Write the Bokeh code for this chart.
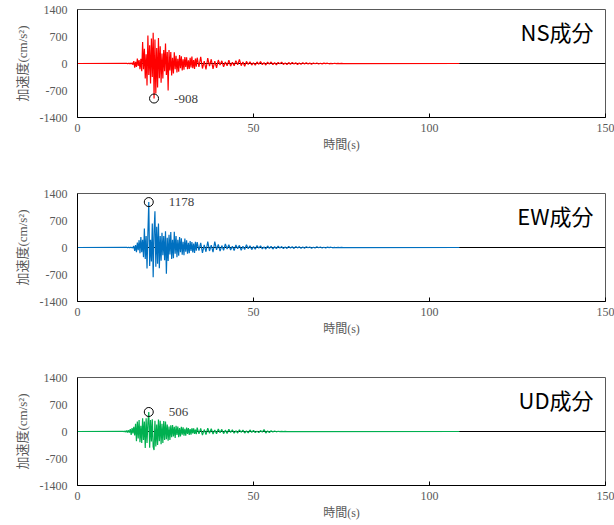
import numpy as np
from bokeh.plotting import figure
from bokeh.layouts import column
from bokeh.models import FixedTicker, Span, Label, Range1d
from bokeh.embed import file_html
from bokeh.resources import INLINE

# ---------------- data ----------------
components = ["NS成分", "EW成分", "UD成分"]
colors = ["#FF0000", "#0070C0", "#00B050"]

record_start = 0.0      # s
record_end = 108.5      # s
main_dt = 0.25          # s, sampling of the strong-motion part
coda_t0 = 34.0          # s
coda_dt = 0.5           # s

ns_main_t0 = 14.0
ns_main = [5, -5, 8, -6, 10, -12, 20, -30,
           60, -110, 40, -90, 130, -60, 90, -150,
           120, -200, 560, -150, 380, -390, 240, -570,
           725, -300, 470, -520, 650, -350, 800, -908,
           620, -780, 400, -620, 660, -380, 450, -500,
           260, -390, 350, -200, 520, -300, 300, -700,
           350, -180, 300, -310, 150, -260, 290, -150,
           200, -230, 120, -210, 220, -120, 190, -180,
           110, -160, 170, -90, 160, -150, 80, -140,
           150, -100, 180, -120, 90, -140, 130, -80]
ns_coda = [150, -90, 170, -130, 60, -150, 140, -70,
           110, -140, 60, -110, 90, -40, 70, -85,
           40, -60, 85, -70, 30, -60, 75, -35,
           105, -55, 40, -70, 55, -25, 45, -40,
           20, -45, 40, -20, 50, -30, 25, -40,
           35, -15, 40, -30, 20, -35, 30, -10,
           35, -25, 15, -30, 25, -20, 30, -12,
           20, -25, 12, -20, 22, -10, 18, -15,
           10, -18, 15, -8, 14, -12, 6, -10,
           10, -5, 8, -8, 4, -6, 6, -3,
           4, -4, 2, -2]

ew_main_t0 = 14.0
ew_main = [5, -5, 6, -6, 8, -8, 10, -12,
           40, -90, 60, -120, 130, -70, 190, -150,
           270, -120, 200, -250, 490, -300, 300, -545,
           380, 1178, -480, 200, -360, 620, -770, 420,
           940, -500, 540, -420, 620, -535, 300, -340,
           380, -200, 300, -330, 420, -680, 250, -350,
           330, -180, 400, -300, 200, -280, 410, -160,
           300, -250, 200, -210, 270, -120, 240, -190,
           150, -200, 230, -110, 190, -160, 120, -150,
           170, -90, 140, -130, 100, -140, 150, -80]
ew_coda = [140, -80, 120, -140, 70, -110, 150, -90,
           60, -120, 155, -60, 80, -95, 50, -75,
           90, -40, 70, -65, 35, -80, 65, -30,
           55, -70, 30, -50, 70, -30, 45, -55,
           25, -45, 50, -20, 45, -35, 15, -40,
           40, -25, 30, -40, 20, -30, 35, -15,
           25, -30, 15, -25, 30, -12, 20, -25,
           25, -10, 18, -22, 10, -20, 22, -8,
           15, -18, 8, -15, 18, -6, 12, -12,
           6, -12, 10, -5, 8, -8, 4, -6,
           5, -3, 2, -3]

ud_main_t0 = 13.0
ud_main = [5, -8, 15, -20, 25, -25, 30, -30,
           60, -90, 86, -50, 120, -100, 200, -250,
           260, -180, 300, -280, 150, -300, 345, -220,
           260, -430, 340, -300, 230, 506, -420, 300,
           -260, 320, -400, -480, 280, -390, 180, -350,
           310, -250, 280, -330, 200, -300, 270, -220,
           260, -200, 180, -240, 130, -220, 160, -150,
           170, -130, 120, -170, 150, -90, 130, -150,
           90, -130, 120, -80, 110, -110, 70, -110,
           100, -60, 90, -90, 60, -80, 85, -50,
           80, -60, 50, -70]
ud_coda = [100, -60, 80, -95, 50, -80, 85, -45,
           70, -65, 40, -60, 65, -30, 55, -55,
           35, -50, 60, -25, 45, -45, 20, -40,
           45, -20, 35, -40, 15, -35, 40, -20,
           30, -30, 10, -30, 25, -15, 50, -40,
           15, -25, 20, -10, 12, -8, 6, -5,
           4, -3, 2, -2]

x_ticks = [0, 50, 100, 150]
y_ticks = [-1400, -700, 0, 700, 1400]
x_title = "時間(s)"
y_title = "加速度(cm/s²)"

series = [(ns_main_t0, ns_main, ns_coda),
          (ew_main_t0, ew_main, ew_coda),
          (ud_main_t0, ud_main, ud_coda)]

# ---------------- styling ----------------
SERIF = "Liberation Serif"
MIXED = "Liberation Serif, Noto Sans CJK JP"
GRAY = "#595959"


def build(i):
    t0, main, coda = series[i]
    t_main = t0 + main_dt * np.arange(len(main))
    t_coda = coda_t0 + coda_dt * np.arange(len(coda))
    t = np.concatenate([[record_start], t_main, t_coda, [record_end]])
    v = np.concatenate([[0], main, coda, [0]]).astype(float)

    last = (i == 2)
    p = figure(frame_width=528, frame_height=108,
               x_range=Range1d(0, 150), y_range=Range1d(-1400, 1400),
               output_backend="svg", toolbar_location=None,
               min_border_left=77, min_border_right=9,
               min_border_top=9, min_border_bottom=(38 if last else 67),
               background_fill_color="white", border_fill_color="white")
    p.xgrid.visible = False
    p.ygrid.visible = False
    p.outline_line_color = GRAY
    p.outline_line_width = 1

    zero = Span(location=0, dimension="width", line_color="black",
                line_width=1, level="underlay")
    p.add_layout(zero)

    p.line(t, v, line_color=colors[i], line_width=1.2)

    k = int(np.argmax(np.abs(v)))
    p.scatter([t[k]], [v[k]], marker="circle", size=9, fill_color=None,
              line_color="black", line_width=1)
    p.add_layout(Label(x=t[k], y=v[k], text=f"{int(v[k])}", x_offset=20,
                       text_baseline="middle", text_align="left",
                       text_font=SERIF, text_font_size="13px",
                       text_color="#404040"))

    p.add_layout(Label(x=146.6, y=830, text=components[i],
                       text_align="right", text_baseline="middle",
                       text_font="Noto Sans CJK JP", text_font_size="22px",
                       text_color="black"))

    xa = p.xaxis[0]
    xa.ticker = FixedTicker(ticks=x_ticks)
    xa.minor_tick_line_color = None
    xa.major_tick_in = 4
    xa.major_tick_out = 0
    xa.major_tick_line_color = "black"
    xa.axis_line_color = "black"
    xa.major_label_standoff = 6
    xa.major_label_text_font = SERIF
    xa.major_label_text_font_size = "12px"
    xa.major_label_text_color = GRAY
    xa.axis_label = x_title
    xa.axis_label_standoff = 3
    xa.axis_label_text_font = MIXED
    xa.axis_label_text_font_size = "12px"
    xa.axis_label_text_font_style = "normal"
    xa.axis_label_text_color = GRAY

    ya = p.yaxis[0]
    ya.ticker = FixedTicker(ticks=y_ticks)
    ya.major_label_overrides = {tk: str(tk) for tk in y_ticks}
    ya.minor_tick_line_color = None
    ya.major_tick_in = 0
    ya.major_tick_out = 0
    ya.axis_line_color = "black"
    ya.major_label_standoff = 10
    ya.major_label_text_font = SERIF
    ya.major_label_text_font_size = "12px"
    ya.major_label_text_color = GRAY
    ya.axis_label = y_title
    ya.axis_label_standoff = 7
    ya.axis_label_text_font = MIXED
    ya.axis_label_text_font_size = "13px"
    ya.axis_label_text_font_style = "normal"
    ya.axis_label_text_color = GRAY
    return p


layout = column(*[build(i) for i in range(3)])

with open("out.html", "w") as f:
    f.write(file_html(layout, INLINE))
